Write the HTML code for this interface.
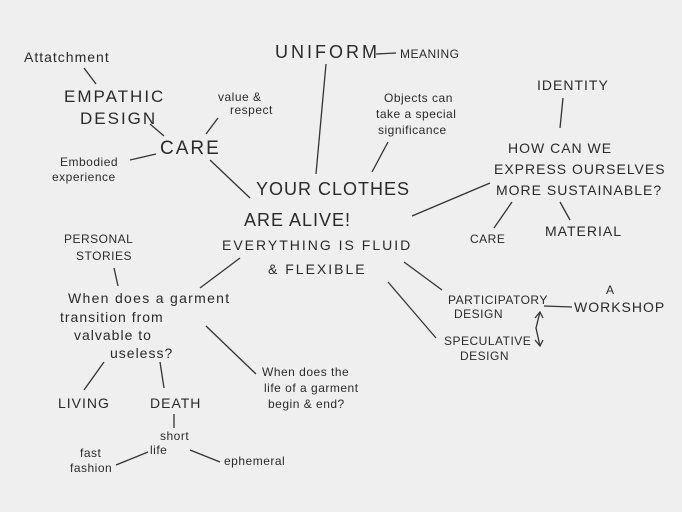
<!DOCTYPE html>
<html><head><meta charset="utf-8"><style>
html,body{margin:0;padding:0;background:#efefef;}
svg{display:block}
text{font-family:"Liberation Sans",sans-serif;fill:#2a2a2a;}
.b{font-size:17px;letter-spacing:2px}
.m{font-size:14px;letter-spacing:1px}
.s{font-size:12px;letter-spacing:0.5px}
line,polyline{stroke:#333;stroke-width:1.3;fill:none}
</style></head><body>
<svg width="682" height="512" viewBox="0 0 682 512">
<rect width="682" height="512" fill="#efefef"/>
<text x="24" y="62" class="m">Attatchment</text>
<text x="64" y="102" class="b">EMPATHIC</text>
<text x="80" y="124" class="b">DESIGN</text>
<text x="218" y="101" class="s">value &amp;</text>
<text x="230" y="114" class="s">respect</text>
<text x="160" y="154" class="b" style="font-size:19px">CARE</text>
<text x="60" y="166" class="s">Embodied</text>
<text x="52" y="181" class="s">experience</text>
<text x="275" y="58" class="b" style="font-size:18px;letter-spacing:3px">UNIFORM</text>
<text x="400" y="58" class="s">MEANING</text>
<text x="384" y="102" class="s">Objects can</text>
<text x="376" y="118" class="s">take a special</text>
<text x="378" y="134" class="s">significance</text>
<text x="537" y="90" class="m">IDENTITY</text>
<text x="508" y="153" class="m">HOW CAN WE</text>
<text x="494" y="174" class="m">EXPRESS OURSELVES</text>
<text x="496" y="195" class="m">MORE  SUSTAINABLE?</text>
<text x="470" y="243" class="s">CARE</text>
<text x="545" y="236" class="m">MATERIAL</text>
<text x="256" y="195" class="b" style="font-size:18px;letter-spacing:1px">YOUR CLOTHES</text>
<text x="244" y="226" class="b" style="font-size:18px;letter-spacing:1px">ARE ALIVE!</text>
<text x="222" y="250" class="m" style="letter-spacing:2px">EVERYTHING IS FLUID</text>
<text x="268" y="274" class="m" style="letter-spacing:2px">&amp; FLEXIBLE</text>
<text x="64" y="243" class="s">PERSONAL</text>
<text x="76" y="260" class="s">STORIES</text>
<text x="68" y="303" class="m" style="letter-spacing:1.3px">When does a garment</text>
<text x="60" y="322" class="m">transition from</text>
<text x="74" y="340" class="m">valvable to</text>
<text x="110" y="358" class="m">useless?</text>
<text x="262" y="376" class="s">When does the</text>
<text x="264" y="392" class="s">life of a garment</text>
<text x="268" y="408" class="s">begin &amp; end?</text>
<text x="58" y="408" class="m">LIVING</text>
<text x="150" y="408" class="m">DEATH</text>
<text x="160" y="440" class="s">short</text>
<text x="150" y="454" class="s">life</text>
<text x="80" y="457" class="s">fast</text>
<text x="70" y="472" class="s">fashion</text>
<text x="224" y="465" class="s">ephemeral</text>
<text x="448" y="304" class="s">PARTICIPATORY</text>
<text x="454" y="318" class="s">DESIGN</text>
<text x="606" y="294" class="s">A</text>
<text x="574" y="312" class="m">WORKSHOP</text>
<text x="444" y="345" class="s">SPECULATIVE</text>
<text x="460" y="360" class="s">DESIGN</text>
<line x1="84" y1="68" x2="96" y2="84"/>
<line x1="150" y1="124" x2="164" y2="136"/>
<line x1="218" y1="118" x2="206" y2="134"/>
<line x1="130" y1="160" x2="156" y2="154"/>
<line x1="210" y1="160" x2="250" y2="198"/>
<line x1="376" y1="54" x2="396" y2="53"/>
<line x1="326" y1="64" x2="316" y2="174"/>
<line x1="388" y1="142" x2="372" y2="172"/>
<line x1="563" y1="98" x2="560" y2="128"/>
<line x1="490" y1="183" x2="412" y2="216"/>
<line x1="512" y1="202" x2="494" y2="228"/>
<line x1="560" y1="202" x2="570" y2="220"/>
<line x1="114" y1="268" x2="118" y2="286"/>
<line x1="240" y1="258" x2="200" y2="288"/>
<line x1="404" y1="262" x2="442" y2="290"/>
<line x1="388" y1="282" x2="436" y2="338"/>
<line x1="544" y1="306" x2="572" y2="307"/>
<polyline points="540,312 536,328 540,346"/>
<polyline points="535,318 540,312 543,318"/>
<polyline points="535,340 540,346 543,340"/>
<line x1="206" y1="326" x2="256" y2="374"/>
<line x1="104" y1="362" x2="84" y2="390"/>
<line x1="160" y1="362" x2="164" y2="388"/>
<line x1="174" y1="414" x2="174" y2="428"/>
<line x1="116" y1="465" x2="148" y2="452"/>
<line x1="190" y1="450" x2="220" y2="462"/>
</svg>
</body></html>
